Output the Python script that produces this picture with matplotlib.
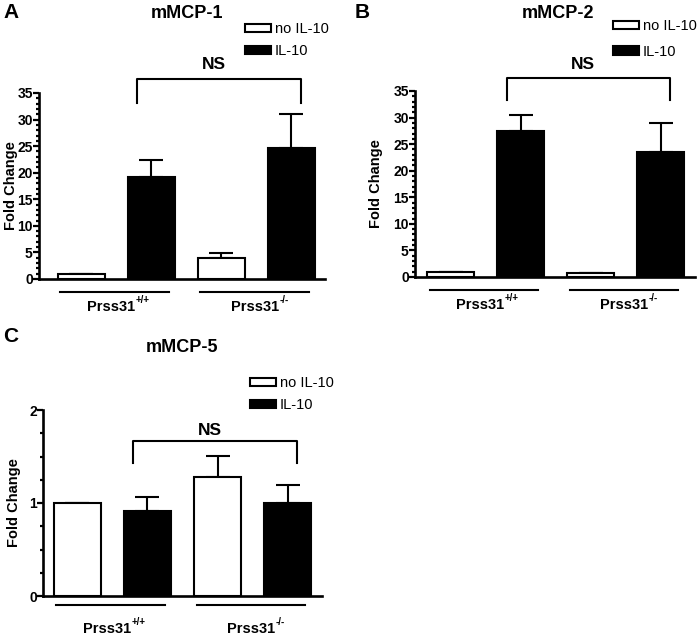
import numpy as np
import matplotlib
matplotlib.use("Agg")
import matplotlib.pyplot as plt
from matplotlib.patches import Patch
from matplotlib.ticker import MultipleLocator

plt.rcParams["font.family"] = ["Liberation Sans", "DejaVu Sans"]

# ---- data --------------------------------------------------------------------
conditions = ["no IL-10", "IL-10"]
genotypes = ["Prss31", "Prss31"]
genotype_sup = ["+/+", "-/-"]

# bar order: WT no IL-10, WT IL-10, KO no IL-10, KO IL-10
mcp1_mean = [1.0, 19.1, 4.0, 24.7]
mcp1_err = [0.0, 3.2, 0.8, 6.4]
mcp2_mean = [1.0, 27.4, 0.8, 23.6]
mcp2_err = [0.0, 3.0, 0.0, 5.4]
mcp5_mean = [1.0, 0.91, 1.28, 1.0]
mcp5_err = [0.0, 0.155, 0.225, 0.19]

W, H = 700, 638
fig = plt.figure(figsize=(W / 100, H / 100), dpi=100)


def px_axes(left, right, y0, ytop):
    return fig.add_axes([left / W, (H - y0) / H, (right - left) / W, (y0 - ytop) / H])


def panel(ax, means, errs, title, letter, ymax, major, minor, xlim,
          bracket_y, bracket_drop, ns_y, leg_xy, leg_space, letter_xy, title_xy,
          ylab_x, line_y, lab_y):
    pos = np.arange(4)
    colors = ["white", "black", "white", "black"]
    ax.bar(pos, means, width=0.67, color=colors, edgecolor="black", linewidth=1.5,
           zorder=2)
    ax.errorbar(pos, means, yerr=[np.zeros(4), errs], fmt="none", ecolor="black",
                elinewidth=1.5, capsize=8.5, capthick=1.5, zorder=1)
    ax.set_xlim(*xlim)
    ax.set_ylim(0, ymax)
    for s in ["top", "right"]:
        ax.spines[s].set_visible(False)
    for s in ["left", "bottom"]:
        ax.spines[s].set_linewidth(1.9)
    ax.set_xticks([])
    ax.yaxis.set_major_locator(MultipleLocator(major))
    ax.yaxis.set_minor_locator(MultipleLocator(minor))
    ax.tick_params(axis="y", which="major", length=4, width=1.6, labelsize=10, pad=0.5)
    ax.tick_params(axis="y", which="minor", length=2.5, width=1.6)
    for t in ax.get_yticklabels():
        t.set_fontweight("bold")
    ax.set_ylabel("Fold Change", fontsize=10.5, fontweight="bold")
    ax.yaxis.set_label_coords(ylab_x, 0.5)

    # NS bracket
    x0, x1 = 0.8, 3.13
    ax.plot([x0, x0, x1, x1], [bracket_drop, bracket_y, bracket_y, bracket_drop],
            color="black", lw=1.5, clip_on=False)
    ax.text((x0 + x1) / 2 - 0.07, ns_y, "NS", ha="center", va="center",
            fontsize=12.5, fontweight="bold")

    # group underlines + genotype labels
    tr = ax.get_xaxis_transform()
    for g, (lab, sup) in enumerate(zip(genotypes, genotype_sup)):
        a, b = pos[2 * g] - 0.3, pos[2 * g + 1] + 0.25
        ax.plot([a, b], [line_y, line_y], color="black", lw=1.5, transform=tr,
                clip_on=False)
        t = ax.text(pos[2 * g] + 0.42 + 0.06 * g, lab_y, lab, transform=tr,
                    ha="center", va="center", fontsize=10.5, fontweight="bold")
        ax.annotate(sup, xy=(1.0, 0.62), xycoords=t, xytext=(0.5, 0),
                    textcoords="offset points", ha="left", va="bottom",
                    fontsize=7, fontweight="bold")

    handles = [Patch(facecolor=c, edgecolor="black", linewidth=1.5)
               for c in ["white", "black"]]
    fig.legend(handles, conditions, loc="upper left",
               bbox_to_anchor=(leg_xy[0] / W, 1 - leg_xy[1] / H), frameon=False,
               fontsize=10.5, handlelength=1.8, handleheight=0.5, handletextpad=0.25,
               labelspacing=leg_space, borderpad=0, borderaxespad=0)
    fig.text(letter_xy[0] / W, 1 - letter_xy[1] / H, letter, fontsize=15,
             fontweight="bold", va="center", ha="left")
    fig.text(title_xy[0] / W, 1 - title_xy[1] / H, title, fontsize=13,
             fontweight="bold", va="center", ha="center")


axA = px_axes(39, 325, 279, 93)
panel(axA, mcp1_mean, mcp1_err, "mMCP-1", "A", 35, 5, 1, (-0.607, 3.48),
      37.6, 33.1, 40.3, (245, 22), 0.55, (3, 13), (187, 14),
      -0.073, -0.07, -0.15)

axB = px_axes(415, 695, 277, 91)
panel(axB, mcp2_mean, mcp2_err, "mMCP-2", "B", 35, 5, 1, (-0.507, 3.49),
      37.4, 33.3, 39.9, (613, 19), 0.8, (355, 13), (558, 14),
      -0.114, -0.07, -0.15)

axC = px_axes(43, 322, 596, 410)
panel(axC, mcp5_mean, mcp5_err, "mMCP-5", "C", 2, 1, 0.25, (-0.49, 3.49),
      1.667, 1.43, 1.78, (250, 376), 0.55, (3, 336), (182, 348),
      -0.079, -0.048, -0.175)

fig.savefig("out.png", dpi=100)
